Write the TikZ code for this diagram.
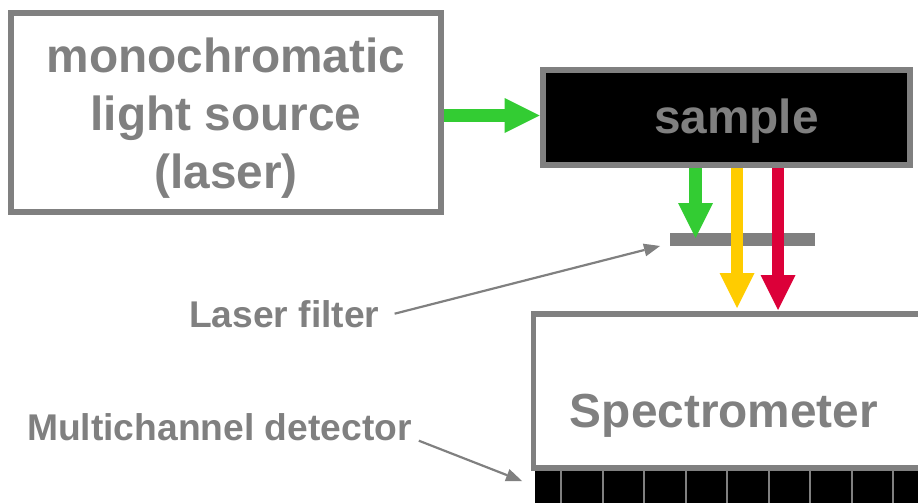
\documentclass[tikz,border=0pt]{standalone}
\usepackage{fontspec}
\setmainfont{Liberation Sans}
\usetikzlibrary{arrows.meta}
\definecolor{bgray}{HTML}{808080}
\definecolor{lgreen}{HTML}{33CC33}
\definecolor{lyellow}{HTML}{FFCC00}
\definecolor{lred}{HTML}{DC0039}
\begin{document}
\begin{tikzpicture}[x=1pt,y=-1pt,
  box/.style={draw=bgray, line width=5.5pt, inner sep=0pt},
  bigtext/.style={text=bgray, font=\fontsize{47.8}{58}\selectfont\bfseries, inner sep=0pt},
  lbltext/.style={text=bgray, font=\fontsize{37.2}{43}\selectfont\bfseries, inner sep=0pt},
  fatarrow/.style={line width=12.5pt, -{Triangle[length=35pt,width=35pt,line width=0pt]}},
  thinarrow/.style={draw=bgray, line width=2.2pt, -{Triangle[length=16pt,width=13pt,line width=0pt]}}
]
\useasboundingbox (0,0) rectangle (918,503);
\clip (0,0) rectangle (918,503);

% boxes
\node[box, minimum width=430pt, minimum height=199pt] (src) at (226,112.5) {};
\node[bigtext, align=center] (srctext) at (226,118) {monochromatic\\light source\\(laser)};

\node[box, fill=black, line width=6pt, minimum width=367.5pt, minimum height=95pt] (sample) at (726.25,117.5) {};
\node[bigtext, anchor=base] (sampletext) at (736.5,133) {sample};

\node[box, minimum width=440pt, minimum height=154pt] (spec) at (753.5,391) {};
\node[bigtext, anchor=base] (spectext) at (724,427) {Spectrometer};

% detector
\node[fill=black, inner sep=0pt, minimum width=400pt, minimum height=40pt, anchor=north west] (det) at (535,471) {};
\foreach \x in {561,603,644,686,727,769,810,852,893}
  \draw[bgray, line width=2pt] (\x,471) -- (\x,503);

% filter
\node[fill=bgray, inner sep=0pt, minimum width=145pt, minimum height=13pt] (filter) at (742.5,239.5) {};

% coordinates
\coordinate (gTip) at (695.5,238);
\coordinate (yTip) at (737,308);
\coordinate (rTip) at (778,310);
\coordinate (lfTip) at (660,246);
\coordinate (mcTip) at (522,481);

% arrows
\draw[fatarrow, lgreen] (src.east |- 0,115.5) -- (sample.west |- 0,115.5);
\draw[fatarrow, lgreen] (sample.south -| gTip) -- (gTip);
\draw[fatarrow, lyellow] (sample.south -| yTip) -- (yTip);
\draw[fatarrow, lred] (sample.south -| rTip) -- (rTip);

% labels
\node[lbltext, anchor=base west] (lf) at (189,327) {Laser filter};
\draw[thinarrow] ([xshift=15pt]lf.east) -- (lfTip);
\node[lbltext, anchor=base west] (mc) at (27,440) {Multichannel detector};
\draw[thinarrow] ([xshift=7pt,yshift=-14pt]mc.east) -- (mcTip);
\end{tikzpicture}
\end{document}
